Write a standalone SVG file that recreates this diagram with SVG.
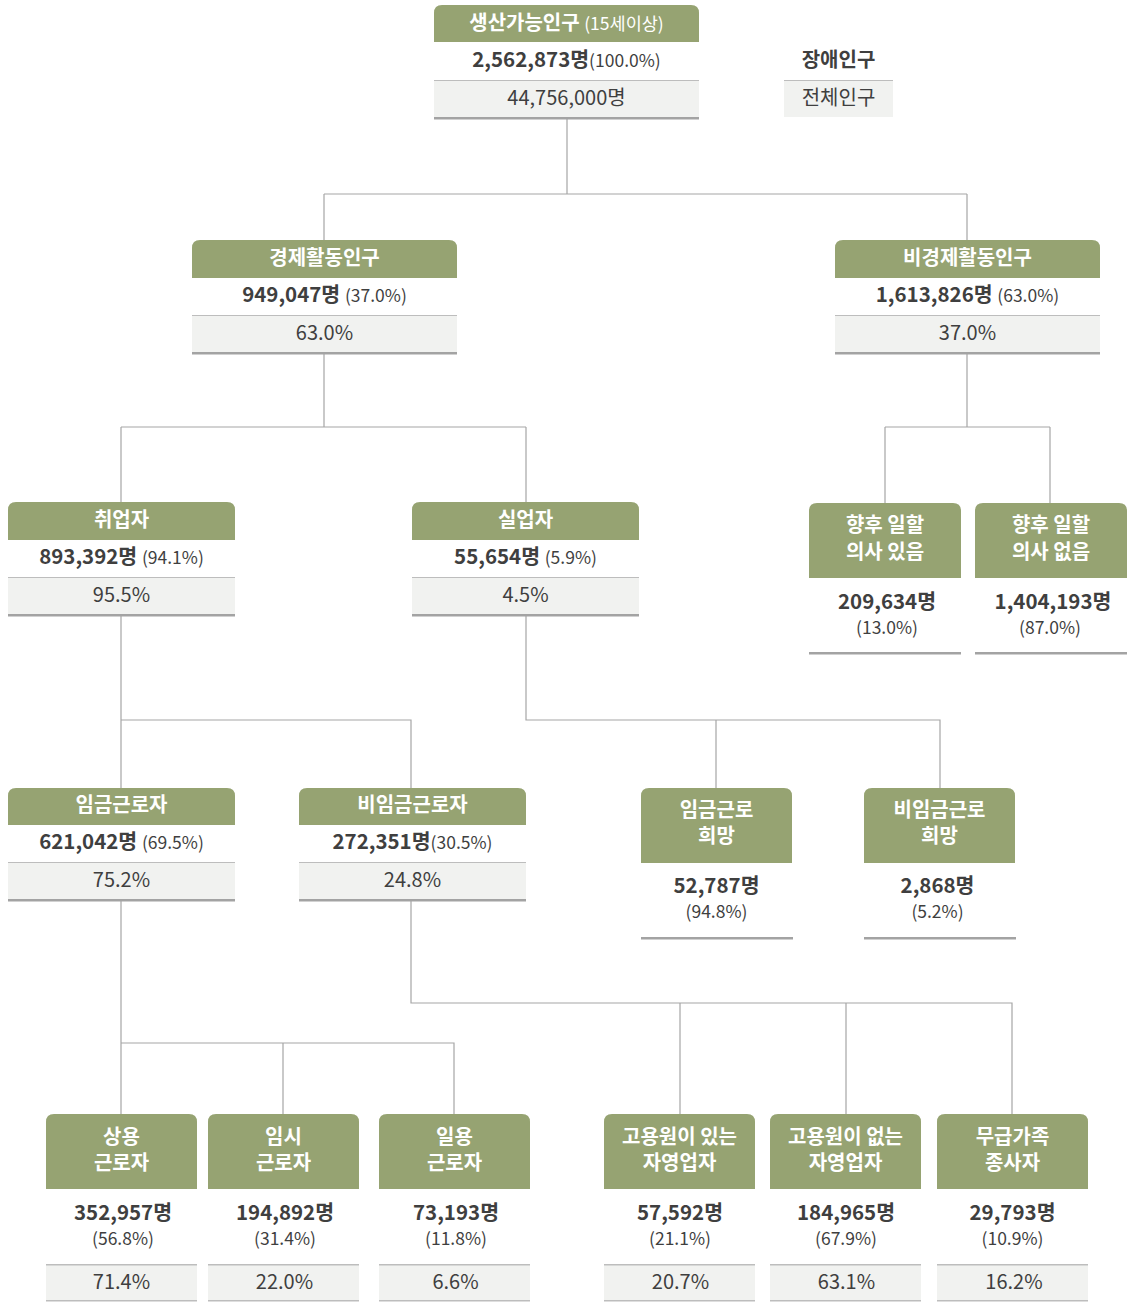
<svg xmlns="http://www.w3.org/2000/svg" width="1129" height="1302" viewBox="0 0 1129 1302">
<style>
text{font-family:"Noto Sans CJK KR","Noto Sans",sans-serif;text-anchor:middle;fill:#3f3f3f}
.hd{fill:#96a372}
.ht{fill:#fff;font-size:20px;font-weight:700}
.hs{font-size:17.5px;font-weight:400}
.num{font-size:20.5px;font-weight:700}
.pc{font-size:17.5px;font-weight:400}
.gt{font-size:20px;font-weight:400}
.gb{fill:#f1f2f0}
.dv{fill:#bdbdbd}
.bt{fill:#a3a3a3}
.cn{fill:none;stroke:#a6a6a6;stroke-width:1.2}
</style>
<g id="connectors">
<path class="cn" d="M567,119V194M324,194H967M324,194V240M967,194V240"/>
<path class="cn" d="M324,354V427M121,427H526M121,427V502M526,427V502"/>
<path class="cn" d="M967,354V427M885,427H1050M885,427V503M1050,427V503"/>
<path class="cn" d="M121,616V788M121,720H411V788"/>
<path class="cn" d="M526,616V720H940V788M716,720V788"/>
<path class="cn" d="M121,901V1114M121,1043H454V1114M283,1043V1114"/>
<path class="cn" d="M411,901V1003H1012V1114M680,1003V1114M846,1003V1114"/>
</g>
<g id="n-top">
<path class="hd" d="M434,42V13Q434,5 442,5H691Q699,5 699,13V42Z"/>
<text class="ht" x="566.5" y="29.5">생산가능인구 <tspan class="hs">(15세이상)</tspan></text>
<text class="num" x="566.5" y="67">2,562,873명<tspan class="pc">(100.0%)</tspan></text>
<rect class="gb" x="434" y="80" width="265" height="37"/>
<rect class="dv" x="434" y="80" width="265" height="1"/>
<rect class="bt" x="434" y="117" width="265" height="2.5"/>
<text class="gt" x="566.5" y="105">44,756,000명</text>
</g>
<g id="legend">
<text class="num" x="838.5" y="67" style="font-size:20px">장애인구</text>
<rect class="gb" x="784" y="80" width="109" height="37"/>
<rect class="dv" x="784" y="80" width="109" height="1"/>
<text class="gt" x="838.5" y="105">전체인구</text>
</g>
<g id="n-econ">
<path class="hd" d="M192,278V248Q192,240 200,240H449Q457,240 457,248V278Z"/>
<text class="ht" x="324.5" y="264.5">경제활동인구</text>
<text class="num" x="324.5" y="302">949,047명 <tspan class="pc">(37.0%)</tspan></text>
<rect class="gb" x="192" y="315" width="265" height="37"/>
<rect class="dv" x="192" y="315" width="265" height="1"/>
<rect class="bt" x="192" y="352" width="265" height="2.5"/>
<text class="gt" x="324.5" y="340">63.0%</text>
</g>
<g id="n-nonecon">
<path class="hd" d="M835,278V248Q835,240 843,240H1092Q1100,240 1100,248V278Z"/>
<text class="ht" x="967.5" y="264.5">비경제활동인구</text>
<text class="num" x="967.5" y="302">1,613,826명 <tspan class="pc">(63.0%)</tspan></text>
<rect class="gb" x="835" y="315" width="265" height="37"/>
<rect class="dv" x="835" y="315" width="265" height="1"/>
<rect class="bt" x="835" y="352" width="265" height="2.5"/>
<text class="gt" x="967.5" y="340">37.0%</text>
</g>
<g id="n-employed">
<path class="hd" d="M8,540V510Q8,502 16,502H227Q235,502 235,510V540Z"/>
<text class="ht" x="121.5" y="527">취업자</text>
<text class="num" x="121.5" y="564">893,392명 <tspan class="pc">(94.1%)</tspan></text>
<rect class="gb" x="8" y="577" width="227" height="37"/>
<rect class="dv" x="8" y="577" width="227" height="1"/>
<rect class="bt" x="8" y="614" width="227" height="2.5"/>
<text class="gt" x="121.5" y="602">95.5%</text>
</g>
<g id="n-unemployed">
<path class="hd" d="M412,540V510Q412,502 420,502H631Q639,502 639,510V540Z"/>
<text class="ht" x="525.5" y="527">실업자</text>
<text class="num" x="525.5" y="564">55,654명 <tspan class="pc">(5.9%)</tspan></text>
<rect class="gb" x="412" y="577" width="227" height="37"/>
<rect class="dv" x="412" y="577" width="227" height="1"/>
<rect class="bt" x="412" y="614" width="227" height="2.5"/>
<text class="gt" x="525.5" y="602">4.5%</text>
</g>
<g id="n-willing">
<path class="hd" d="M809,578V511Q809,503 817,503H953Q961,503 961,511V578Z"/>
<text class="ht" x="885" y="531.5">향후 일할</text>
<text class="ht" x="885" y="558.5">의사 있음</text>
<text class="num" x="887" y="609">209,634명</text>
<text class="pc" x="887" y="634">(13.0%)</text>
<rect class="bt" x="809" y="652" width="152" height="2.5"/>
</g>
<g id="n-unwilling">
<path class="hd" d="M975,578V511Q975,503 983,503H1119Q1127,503 1127,511V578Z"/>
<text class="ht" x="1051" y="531.5">향후 일할</text>
<text class="ht" x="1051" y="558.5">의사 없음</text>
<text class="num" x="1053" y="609">1,404,193명</text>
<text class="pc" x="1050" y="634">(87.0%)</text>
<rect class="bt" x="975" y="652" width="152" height="2.5"/>
</g>
<g id="n-wage">
<path class="hd" d="M8,825V796Q8,788 16,788H227Q235,788 235,796V825Z"/>
<text class="ht" x="121.5" y="812">임금근로자</text>
<text class="num" x="121.5" y="849">621,042명 <tspan class="pc">(69.5%)</tspan></text>
<rect class="gb" x="8" y="862" width="227" height="37"/>
<rect class="dv" x="8" y="862" width="227" height="1"/>
<rect class="bt" x="8" y="899" width="227" height="2.5"/>
<text class="gt" x="121.5" y="887">75.2%</text>
</g>
<g id="n-nonwage">
<path class="hd" d="M299,825V796Q299,788 307,788H518Q526,788 526,796V825Z"/>
<text class="ht" x="412.5" y="812">비임금근로자</text>
<text class="num" x="412.5" y="849">272,351명<tspan class="pc">(30.5%)</tspan></text>
<rect class="gb" x="299" y="862" width="227" height="37"/>
<rect class="dv" x="299" y="862" width="227" height="1"/>
<rect class="bt" x="299" y="899" width="227" height="2.5"/>
<text class="gt" x="412.5" y="887">24.8%</text>
</g>
<g id="n-wagehope">
<path class="hd" d="M641,863V796Q641,788 649,788H784Q792,788 792,796V863Z"/>
<text class="ht" x="716.5" y="817">임금근로</text>
<text class="ht" x="716.5" y="843">희망</text>
<text class="num" x="716.5" y="893">52,787명</text>
<text class="pc" x="716.5" y="918">(94.8%)</text>
<rect class="bt" x="641" y="937" width="152" height="2.5"/>
</g>
<g id="n-nonwagehope">
<path class="hd" d="M864,863V796Q864,788 872,788H1007Q1015,788 1015,796V863Z"/>
<text class="ht" x="939.5" y="817">비임금근로</text>
<text class="ht" x="939.5" y="843">희망</text>
<text class="num" x="937.5" y="893">2,868명</text>
<text class="pc" x="937.5" y="918">(5.2%)</text>
<rect class="bt" x="864" y="937" width="152" height="2.5"/>
</g>
<g id="n-regular">
<path class="hd" d="M46,1189V1122Q46,1114 54,1114H189Q197,1114 197,1122V1189Z"/>
<text class="ht" x="121.5" y="1144">상용</text>
<text class="ht" x="121.5" y="1170">근로자</text>
<text class="num" x="123" y="1220">352,957명</text>
<text class="pc" x="123" y="1245">(56.8%)</text>
<rect class="gb" x="46" y="1264" width="151" height="37"/>
<rect class="dv" x="46" y="1264" width="151" height="1.5"/>
<rect class="dv" x="46" y="1300" width="151" height="1.5"/>
<text class="gt" x="121.5" y="1289">71.4%</text>
</g>
<g id="n-temp">
<path class="hd" d="M208,1189V1122Q208,1114 216,1114H351Q359,1114 359,1122V1189Z"/>
<text class="ht" x="283.5" y="1144">임시</text>
<text class="ht" x="283.5" y="1170">근로자</text>
<text class="num" x="285" y="1220">194,892명</text>
<text class="pc" x="285" y="1245">(31.4%)</text>
<rect class="gb" x="208" y="1264" width="151" height="37"/>
<rect class="dv" x="208" y="1264" width="151" height="1.5"/>
<rect class="dv" x="208" y="1300" width="151" height="1.5"/>
<text class="gt" x="284.5" y="1289">22.0%</text>
</g>
<g id="n-daily">
<path class="hd" d="M379,1189V1122Q379,1114 387,1114H522Q530,1114 530,1122V1189Z"/>
<text class="ht" x="454.5" y="1144">일용</text>
<text class="ht" x="454.5" y="1170">근로자</text>
<text class="num" x="456" y="1220">73,193명</text>
<text class="pc" x="456" y="1245">(11.8%)</text>
<rect class="gb" x="379" y="1264" width="151" height="37"/>
<rect class="dv" x="379" y="1264" width="151" height="1.5"/>
<rect class="dv" x="379" y="1300" width="151" height="1.5"/>
<text class="gt" x="455.5" y="1289">6.6%</text>
</g>
<g id="n-selfemp1">
<path class="hd" d="M604,1189V1122Q604,1114 612,1114H747Q755,1114 755,1122V1189Z"/>
<text class="ht" x="679.5" y="1144">고용원이 있는</text>
<text class="ht" x="679.5" y="1170">자영업자</text>
<text class="num" x="680" y="1220">57,592명</text>
<text class="pc" x="680" y="1245">(21.1%)</text>
<rect class="gb" x="604" y="1264" width="151" height="37"/>
<rect class="dv" x="604" y="1264" width="151" height="1.5"/>
<rect class="dv" x="604" y="1300" width="151" height="1.5"/>
<text class="gt" x="680.5" y="1289">20.7%</text>
</g>
<g id="n-selfemp2">
<path class="hd" d="M770,1189V1122Q770,1114 778,1114H913Q921,1114 921,1122V1189Z"/>
<text class="ht" x="845.5" y="1144">고용원이 없는</text>
<text class="ht" x="845.5" y="1170">자영업자</text>
<text class="num" x="846" y="1220">184,965명</text>
<text class="pc" x="846" y="1245">(67.9%)</text>
<rect class="gb" x="770" y="1264" width="151" height="37"/>
<rect class="dv" x="770" y="1264" width="151" height="1.5"/>
<rect class="dv" x="770" y="1300" width="151" height="1.5"/>
<text class="gt" x="846.5" y="1289">63.1%</text>
</g>
<g id="n-family">
<path class="hd" d="M937,1189V1122Q937,1114 945,1114H1080Q1088,1114 1088,1122V1189Z"/>
<text class="ht" x="1012.5" y="1144">무급가족</text>
<text class="ht" x="1012.5" y="1170">종사자</text>
<text class="num" x="1012.5" y="1220">29,793명</text>
<text class="pc" x="1012.5" y="1245">(10.9%)</text>
<rect class="gb" x="937" y="1264" width="151" height="37"/>
<rect class="dv" x="937" y="1264" width="151" height="1.5"/>
<rect class="dv" x="937" y="1300" width="151" height="1.5"/>
<text class="gt" x="1014" y="1289">16.2%</text>
</g>
</svg>
